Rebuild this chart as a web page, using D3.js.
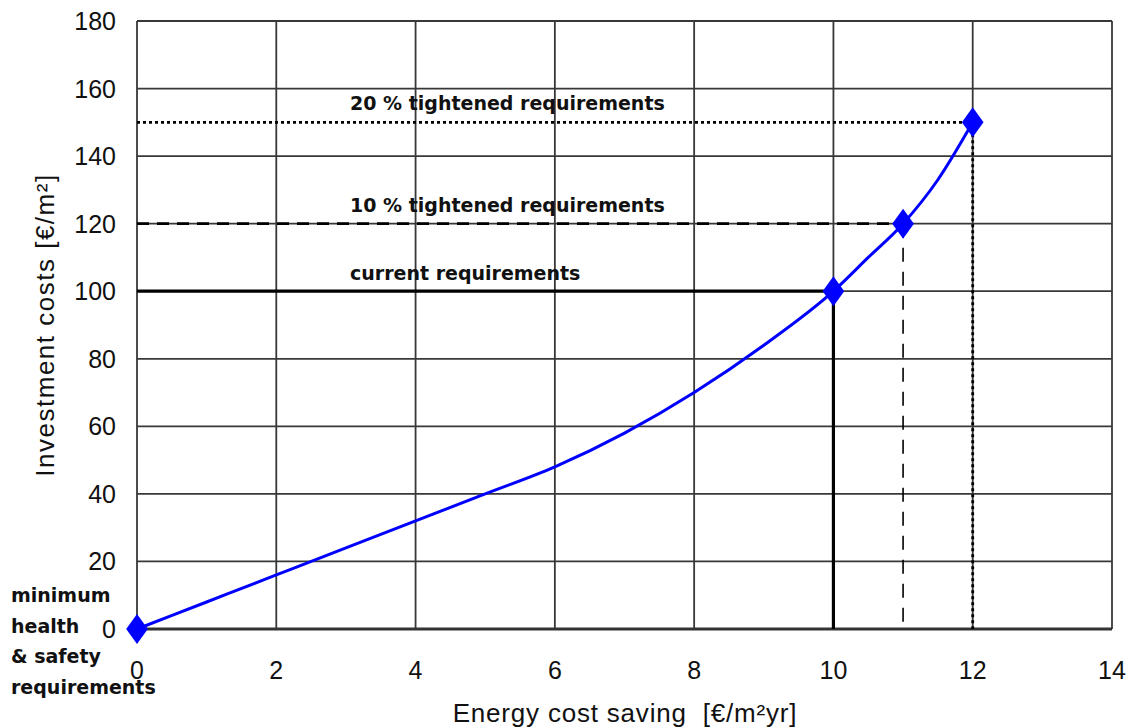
<!DOCTYPE html>
<html>
<head>
<meta charset="utf-8">
<script src="https://cdn.jsdelivr.net/npm/d3@7"></script>
<style>
  body { margin: 0; background: #fff; }
  svg { display: block; }
</style>
</head>
<body>
<div id="chart"></div>
<script>
// curve: energy cost saving vs investment cost
const savingValues = [0, 1, 2, 3, 4, 5, 6, 7, 8, 9, 10, 10.5, 11, 11.5, 12];
const costValues   = [0, 8, 16, 24, 32, 40, 48, 58, 70, 84, 100, 110, 120, 133, 150];

// requirement levels (marked with diamonds)
const levelNames   = ["minimum", "current requirements", "10 % tightened requirements", "20 % tightened requirements"];
const levelSaving  = [0, 10, 11, 12];
const levelCost    = [0, 100, 120, 150];

const xTicks = [0, 2, 4, 6, 8, 10, 12, 14];
const yTicks = [0, 20, 40, 60, 80, 100, 120, 140, 160, 180];

const W = 1133, H = 728;
const margin = {top: 21, right: 21, bottom: 99, left: 137};
const width = W - margin.left - margin.right;
const height = H - margin.top - margin.bottom;

const svg = d3.select("#chart").append("svg")
    .attr("width", W)
    .attr("height", H);

const g = svg.append("g")
    .attr("transform", `translate(${margin.left},${margin.top})`);

const x = d3.scaleLinear().domain([0, 14]).range([0, width]);
const y = d3.scaleLinear().domain([0, 180]).range([height, 0]);

// grid
g.selectAll(".vgrid").data(xTicks).enter().append("line")
    .attr("x1", d => x(d)).attr("x2", d => x(d))
    .attr("y1", 0).attr("y2", height)
    .attr("stroke", "#383838").attr("stroke-width", 1.8);
g.selectAll(".hgrid").data(yTicks).enter().append("line")
    .attr("y1", d => y(d)).attr("y2", d => y(d))
    .attr("x1", 0).attr("x2", width)
    .attr("stroke", "#383838").attr("stroke-width", 1.8);
// bottom border a bit heavier
g.append("line")
    .attr("x1", 0).attr("x2", width)
    .attr("y1", height).attr("y2", height)
    .attr("stroke", "#333").attr("stroke-width", 3);

// tick labels
const tickFont = "'Liberation Sans', Arial, sans-serif";
g.selectAll(".ylab").data(yTicks).enter().append("text")
    .attr("x", -21).attr("y", d => y(d))
    .attr("dy", "0.36em")
    .attr("text-anchor", "end")
    .attr("font-family", tickFont).attr("font-size", 25)
    .attr("fill", "#111")
    .text(d => d);
g.selectAll(".xlab").data(xTicks).enter().append("text")
    .attr("x", d => x(d)).attr("y", height + 50)
    .attr("text-anchor", "middle")
    .attr("font-family", tickFont).attr("font-size", 25)
    .attr("fill", "#111")
    .text(d => d);

// axis titles
svg.append("text")
    .attr("x", 625).attr("y", 722)
    .attr("text-anchor", "middle")
    .attr("font-family", tickFont).attr("font-size", 26)
    .attr("letter-spacing", 0.8)
    .style("white-space", "pre")
    .attr("fill", "#111")
    .text("Energy cost saving  [€/m²yr]");
svg.append("text")
    .attr("transform", "translate(54,325) rotate(-90)")
    .attr("text-anchor", "middle")
    .attr("font-family", tickFont).attr("font-size", 26)
    .attr("letter-spacing", 1.5)
    .attr("fill", "#111")
    .text("Investment costs [€/m²]");

// requirement reference lines
const refStyles = [null,
    {w: 3.2, dash: null, vw: 3.2, vdash: null},
    {w: 2.6, dash: "12,8", vw: 1.6, vdash: "14,10"},
    {w: 2.6, dash: "3,3", vw: 2.8, vdash: "3,3"}];
for (let i = 1; i < levelSaving.length; i++) {
    const s = refStyles[i];
    g.append("line")
        .attr("x1", 0).attr("x2", x(levelSaving[i]))
        .attr("y1", y(levelCost[i])).attr("y2", y(levelCost[i]))
        .attr("stroke", "#000").attr("stroke-width", s.w)
        .attr("stroke-dasharray", s.dash);
    g.append("line")
        .attr("x1", x(levelSaving[i])).attr("x2", x(levelSaving[i]))
        .attr("y1", y(levelCost[i])).attr("y2", height)
        .attr("stroke", "#000").attr("stroke-width", s.vw)
        .attr("stroke-dasharray", s.vdash);
}

// labels over the reference lines
const labelFont = "'DejaVu Sans', Verdana, sans-serif";
const labelOffset = [null, 11, 12, 12];
for (let i = 1; i < levelNames.length; i++) {
    g.append("text")
        .attr("x", 213).attr("y", y(levelCost[i]) - labelOffset[i])
        .attr("font-family", labelFont).attr("font-size", 19)
        .attr("font-weight", "bold")
        .attr("fill", "#111")
        .text(levelNames[i]);
}

// minimum label at left
const minLines = ["minimum", "health", "& safety", "requirements"];
svg.selectAll(".minlab").data(minLines).enter().append("text")
    .attr("x", 11).attr("y", (d, i) => 602 + i * 30.5)
    .attr("font-family", labelFont).attr("font-size", 19)
    .attr("font-weight", "bold")
    .attr("fill", "#111")
    .text(d => d);

// the curve
const curveData = savingValues.map((s, i) => [s, costValues[i]]);
g.append("path")
    .datum(curveData)
    .attr("fill", "none")
    .attr("stroke", "#0000ff")
    .attr("stroke-width", 3)
    .attr("d", d3.line().x(d => x(d[0])).y(d => y(d[1])).curve(d3.curveMonotoneX));

// diamond markers
const diamond = d3.symbol().type(d3.symbolDiamond).size(260);
g.selectAll(".marker").data(levelSaving).enter().append("path")
    .attr("transform", (d, i) => `translate(${x(d)},${y(levelCost[i])}) scale(1.25,1)`)
    .attr("d", diamond)
    .attr("fill", "#0000ff");
</script>
</body>
</html>
